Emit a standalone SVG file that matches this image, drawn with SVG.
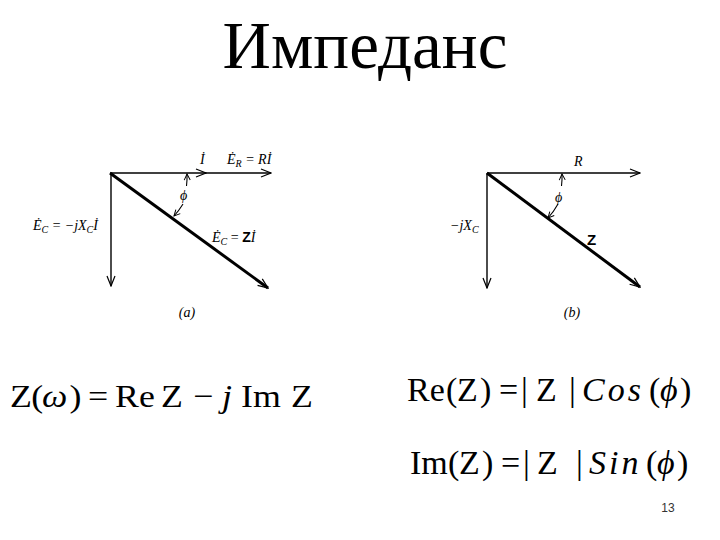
<svg xmlns="http://www.w3.org/2000/svg" width="720" height="540" viewBox="0 0 720 540">
<style>
.t{font-family:"Liberation Serif","Times New Roman",serif;fill:#000}
.i{font-style:italic}
.ln{stroke:#000;stroke-width:1.4;fill:none}
.th{stroke:#000;stroke-width:3;fill:none}
.ph{stroke:#000;stroke-width:1.1;fill:none}
.lb{font-family:"Liberation Serif",serif;font-style:italic;font-size:14px;fill:#000}
.sb{font-family:"Liberation Sans",Arial,sans-serif;font-weight:bold;font-style:normal;fill:#000}
</style>
<defs>
<marker id="ah" markerWidth="12" markerHeight="10" refX="11" refY="5" orient="auto" markerUnits="userSpaceOnUse">
<path d="M1,1 L11,5 L1,9" fill="none" stroke="#000" stroke-width="1.2"/>
</marker>
<marker id="as" markerWidth="8" markerHeight="8" refX="7" refY="4" orient="auto" markerUnits="userSpaceOnUse">
<path d="M1,1 L7,4 L1,7" fill="none" stroke="#000" stroke-width="1"/>
</marker>
</defs>
<g id="title"><text class="t" x="365" y="68" font-size="67" text-anchor="middle">Импеданс</text></g>
<g id="connectors">
<line class="ln" x1="110" y1="173" x2="206" y2="173" marker-end="url(#ah)"/>
<line class="ln" x1="205" y1="173" x2="271" y2="173" marker-end="url(#ah)"/>
<line class="ln" x1="111" y1="173" x2="111" y2="286" marker-end="url(#ah)"/>
<line class="th" x1="110" y1="173" x2="268" y2="288" marker-end="url(#ah)"/>
<path class="ph" d="M186.5,186 A77,77 0 0 0 187,174" marker-end="url(#as)"/>
<path class="ph" d="M183,204 A77,77 0 0 1 174,216" marker-end="url(#as)"/>
<line class="ln" x1="487" y1="173" x2="640" y2="173" marker-end="url(#ah)"/>
<line class="ln" x1="487" y1="173" x2="487" y2="288" marker-end="url(#ah)"/>
<line class="th" x1="487" y1="173" x2="640" y2="287" marker-end="url(#ah)"/>
<path class="ph" d="M561.5,186 A75,75 0 0 0 562,174" marker-end="url(#as)"/>
<path class="ph" d="M558,204 A75,75 0 0 1 548,218" marker-end="url(#as)"/>
</g>
<g id="diagram-a">
<text class="lb" x="200" y="164">İ</text>
<text class="lb" x="227" y="164">Ė<tspan font-size="10" dy="3">R</tspan><tspan dy="-3"> = Rİ</tspan></text>
<text class="lb" x="33" y="230">Ė<tspan font-size="10" dy="3">C</tspan><tspan dy="-3"> = −jX</tspan><tspan font-size="10" dy="3">C</tspan><tspan dy="-3">İ</tspan></text>
<text class="lb" x="212" y="242">Ė<tspan font-size="10" dy="3">C</tspan><tspan dy="-3" font-style="normal"> = </tspan><tspan class="sb">Z</tspan>İ</text>
<text class="lb" x="180" y="200" font-size="13" font-style="normal">ϕ</text>
<text class="lb" x="187" y="317" font-size="12" text-anchor="middle">(a)</text>
</g>
<g id="diagram-b">
<text class="lb" x="574" y="166">R</text>
<text class="lb" x="450" y="230">−jX<tspan font-size="10" dy="3">C</tspan></text>
<text class="sb" x="587" y="245" font-size="15">Z</text>
<text class="lb" x="555" y="202" font-size="13" font-style="normal">ϕ</text>
<text class="lb" x="572" y="317" font-size="12" text-anchor="middle">(b)</text>
</g>
<g id="formula-1" transform="scale(1.12,1)">
<text class="t" y="407" font-size="32"><tspan x="8.9">Z</tspan><tspan x="28">(</tspan><tspan x="37.5" class="i">ω</tspan><tspan x="62">)</tspan><tspan x="78.6">=</tspan><tspan x="102.7">Re</tspan><tspan x="143.8">Z</tspan><tspan x="172.3">−</tspan><tspan x="198.2" class="i">j</tspan><tspan x="215.2">Im</tspan><tspan x="259.8">Z</tspan></text>
</g>
<g id="formula-2">
<text class="t" y="401" font-size="34"><tspan x="407">Re</tspan><tspan x="446">(</tspan><tspan x="457">Z</tspan><tspan x="480">)</tspan><tspan x="499">=</tspan><tspan x="521">|</tspan><tspan x="536">Z</tspan><tspan x="569">|</tspan><tspan x="582" class="i" letter-spacing="3">Cos</tspan><tspan x="649">(</tspan><tspan x="660" class="i">ϕ</tspan><tspan x="680">)</tspan></text>
<text class="t" y="474" font-size="34"><tspan x="410">Im</tspan><tspan x="448">(</tspan><tspan x="459">Z</tspan><tspan x="482">)</tspan><tspan x="501">=</tspan><tspan x="523">|</tspan><tspan x="537">Z</tspan><tspan x="576">|</tspan><tspan x="589" class="i" letter-spacing="3">Sin</tspan><tspan x="646">(</tspan><tspan x="657" class="i">ϕ</tspan><tspan x="677">)</tspan></text>
</g>
<g id="page"><text x="668" y="512" font-family="Liberation Sans,Arial,sans-serif" font-size="12" fill="#333" text-anchor="middle">13</text></g>
</svg>
